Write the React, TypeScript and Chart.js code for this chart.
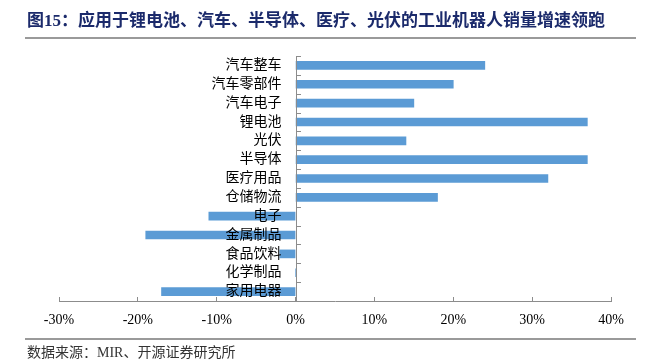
import React, { useEffect, useRef } from 'react';
import { Chart, registerables } from 'chart.js';

Chart.register(...registerables);

const categories = ['汽车整车', '汽车零部件', '汽车电子', '锂电池', '光伏', '半导体', '医疗用品', '仓储物流', '电子', '金属制品', '食品饮料', '化学制品', '家用电器'];
const growth = [24, 20, 15, 37, 14, 37, 32, 18, -11, -19, -2, 0, -17];
const xMin = -30;
const xMax = 40;
const xStep = 10;

const titleText = '图15：应用于锂电池、汽车、半导体、医疗、光伏的工业机器人销量增速领跑';
const sourceText = '数据来源：MIR、开源证券研究所';

const FONT = "'Liberation Serif', 'Noto Sans CJK SC', serif";
const AXIS_COLOR = '#8c8c8c';

const categoryLabelsAtZero = {
  id: 'categoryLabelsAtZero',
  afterDatasetsDraw(chart: any) {
    const { ctx, scales } = chart;
    const xs = scales.x;
    const ys = scales.y;
    const x0 = xs.getPixelForValue(0);
    ctx.save();
    // axis line at zero
    ctx.strokeStyle = AXIS_COLOR;
    ctx.lineWidth = 1;
    ctx.beginPath();
    ctx.moveTo(Math.round(x0) + 0.5, chart.chartArea.top);
    ctx.lineTo(Math.round(x0) + 0.5, chart.chartArea.bottom);
    ctx.stroke();
    // tick marks at category boundaries, pointing right
    const n = ys.ticks.length;
    for (let i = 0; i <= n; i++) {
      let y;
      if (i === 0) y = chart.chartArea.top;
      else if (i === n) y = chart.chartArea.bottom;
      else y = (ys.getPixelForValue(i - 1) + ys.getPixelForValue(i)) / 2;
      y = Math.round(y) + 0.5;
      ctx.beginPath();
      ctx.moveTo(Math.round(x0), y);
      ctx.lineTo(Math.round(x0) + 5, y);
      ctx.stroke();
    }
    // labels
    ctx.fillStyle = '#000';
    ctx.font = `14px ${FONT}`;
    ctx.textAlign = 'right';
    ctx.textBaseline = 'middle';
    categories.forEach((c, i) => {
      ctx.fillText(c, x0 - 14, ys.getPixelForValue(i));
    });
    ctx.restore();
  },
};

export default function App() {
  const ref = useRef<HTMLCanvasElement>(null);
  useEffect(() => {
    const chart = new Chart(ref.current!, {
      type: 'bar',
      data: {
        labels: categories,
        datasets: [{ data: growth, backgroundColor: '#5b9bd5', barThickness: 8 }],
      },
      options: {
        indexAxis: 'y',
        animation: false,
        responsive: false,
        maintainAspectRatio: false,
        layout: { padding: { left: 59, right: 46, top: 56, bottom: 32 } },
        plugins: { legend: { display: false }, tooltip: { enabled: false } },
        scales: {
          x: {
            min: xMin,
            max: xMax,
            ticks: {
              stepSize: xStep,
              callback: (v: any) => v + '%',
              font: { family: FONT, size: 14 },
              color: '#000',
              padding: 15,
            },
            grid: { drawOnChartArea: false, drawTicks: true, tickLength: -4, color: AXIS_COLOR },
            border: { color: AXIS_COLOR, width: 1 },
            afterFit: (s: any) => { s.height = 30; },
          },
          y: {
            display: false,
          },
        },
      },
      plugins: [categoryLabelsAtZero],
    });
    return () => chart.destroy();
  }, []);

  return (
    <div style={{ position: 'absolute', left: 0, top: 0, width: 657, height: 363, background: '#fff', overflow: 'hidden' }}>
      <canvas ref={ref} width={657} height={363} style={{ position: 'absolute', left: 0, top: 0, width: 657, height: 363 }} />
      <div style={{ position: 'absolute', left: 27, top: 10, fontFamily: FONT, fontWeight: 'bold', fontSize: 17, lineHeight: '22px', color: '#1b2a6b', whiteSpace: 'nowrap' }}>{titleText}</div>
      <div style={{ position: 'absolute', left: 25, top: 37, width: 611, height: 2, background: '#9a9a9a' }} />
      <div style={{ position: 'absolute', left: 25, top: 338, width: 611, height: 1.5, background: '#9a9a9a' }} />
      <div style={{ position: 'absolute', left: 27, top: 343, fontFamily: FONT, fontSize: 14, lineHeight: '20px', color: '#333', whiteSpace: 'nowrap' }}>{sourceText}</div>
    </div>
  );
}
